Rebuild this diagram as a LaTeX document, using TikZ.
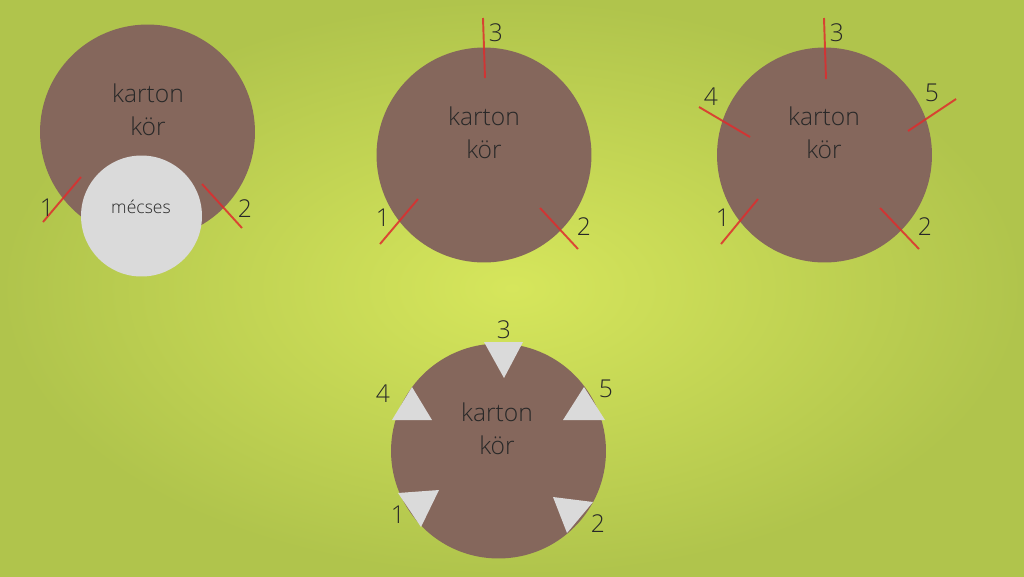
\documentclass[tikz,border=0pt]{standalone}
\usepackage{fontspec}
\setmainfont{Open Sans Light}
\usepackage{tikz}
\definecolor{bgin}{RGB}{214,230,92}
\definecolor{bgout}{RGB}{176,196,76}
\definecolor{karton}{RGB}{133,103,92}
\definecolor{mecses}{RGB}{218,218,218}
\definecolor{cutred}{RGB}{222,45,45}
\definecolor{txt}{RGB}{40,40,40}

\begin{document}
\begin{tikzpicture}[x=0.02cm,y=-0.02cm,
		disk/.style={circle,fill=karton,minimum size=4.3cm,inner sep=0pt},
		lamp/.style={circle,fill=mecses,minimum size=2.42cm,inner sep=0pt},
		cutline/.style={cutred,line width=1.1pt,opacity=0.85},
		notch/.style={fill=mecses},
		num/.style={text=txt,font=\fontsize{14}{17}\selectfont,inner sep=0pt},
		caption/.style={text=txt,font=\fontsize{14}{19}\selectfont,align=center,inner sep=0pt}]
				\shade[inner color=bgin,outer color=bgout] (0,0) rectangle (1024,576);
				\useasboundingbox (0,0) rectangle (1024,576);
				
				% first step: disk with the candle
				\node[disk] (d1) at (147.5,132) {};
				\node[lamp] (m1) at (141.5,216) {};
				\node[caption] (t1) at (148,110) {karton\\kör};
				\node[text=txt,font=\fontsize{10}{12}\selectfont] (m1t) at (141,207) {mécses};
				\draw[cutline] (43,222) -- (81,177);
				\draw[cutline] (202,184) -- (242,228);
				\node[num] (a1) at (47,208) {1};
				\node[num] (a2) at (245,209) {2};
				
				% second step: three cuts
				\node[disk] (d2) at (484,155) {};
				\node[caption] (t2) at (484,133) {karton\\kör};
				\draw[cutline] (483,18) -- (485,78);
				\draw[cutline] (380,244) -- (418,199);
				\draw[cutline] (540,208) -- (578,249);
				\node[num] (b1) at (383,218) {1};
				\node[num] (b2) at (584,227) {2};
				\node[num] (b3) at (496,33) {3};
				
				% third step: five cuts
				\node[disk] (d3) at (824.5,155) {};
				\node[caption] (t3) at (824,133) {karton\\kör};
				\draw[cutline] (824,18) -- (826,79);
				\draw[cutline] (699,107) -- (750,137);
				\draw[cutline] (956,99) -- (908,131);
				\draw[cutline] (721,244) -- (758,199);
				\draw[cutline] (880,208) -- (919,249);
				\node[num] (c1) at (723,218) {1};
				\node[num] (c2) at (925,227) {2};
				\node[num] (c3) at (837,33) {3};
				\node[num] (c4) at (711,97) {4};
				\node[num] (c5) at (932,93) {5};
				
				% last step: folded tabs
				\node[disk] (d4) at (498.5,451) {};
				\node[caption] (t4) at (497,429) {karton\\kör};
				\fill[notch] (484,342) -- (523,342) -- (504,378) -- cycle;
				\fill[notch] (392,420) -- (432,420) -- (412,387) -- cycle;
				\fill[notch] (563,420) -- (605,420) -- (584,387) -- cycle;
				\fill[notch] (398,493) -- (439,490) -- (421,527) -- cycle;
				\fill[notch] (553,497) -- (593,502) -- (567,533) -- cycle;
				\node[num] (e1) at (398,515) {1};
				\node[num] (e2) at (598,524) {2};
				\node[num] (e3) at (504,330) {3};
				\node[num] (e4) at (383,394) {4};
				\node[num] (e5) at (606,389) {5};
			\end{tikzpicture}
\end{document}
